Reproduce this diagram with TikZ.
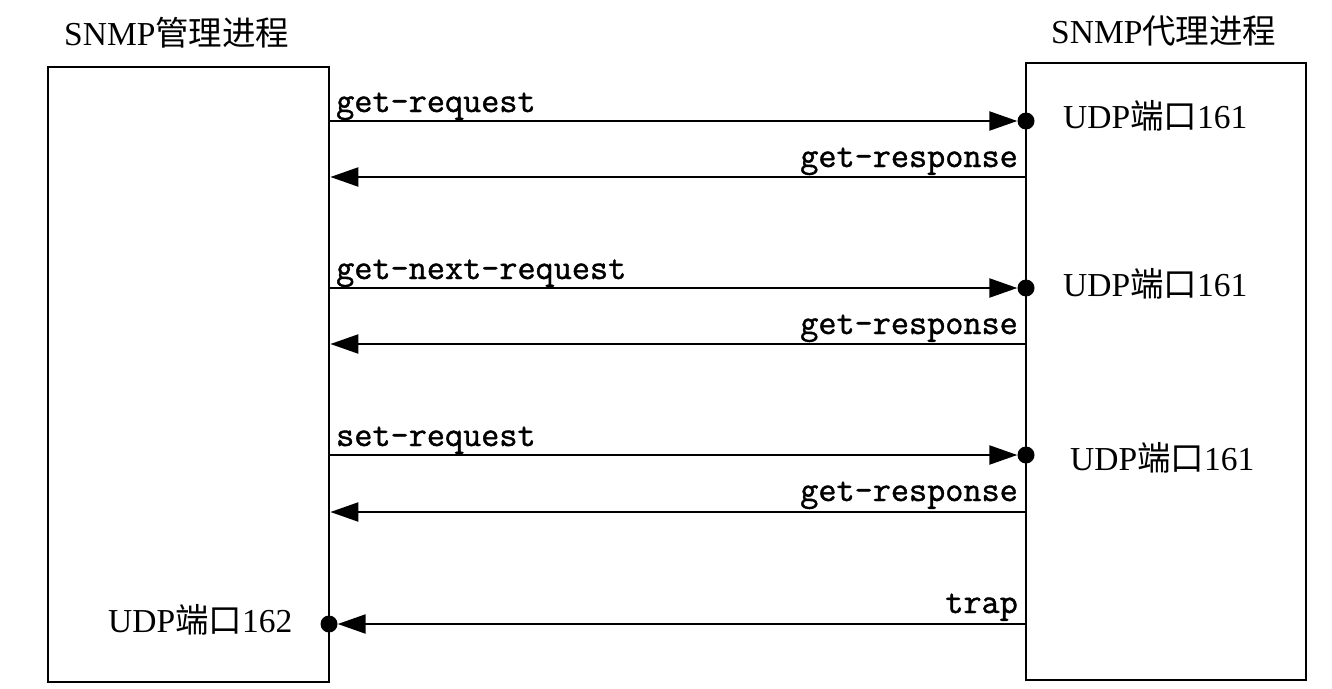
\documentclass[tikz,border=0pt]{standalone}
\usepackage{fontspec}
\setmainfont{Liberation Serif}
\newfontfamily\msgfont{Latin Modern Mono}[FakeBold=1.2]
\newfontfamily\cjk{Noto Sans CJK SC}
\usetikzlibrary{arrows.meta}
\newcommand{\zh}[1]{{\cjk #1}}
\begin{document}
\begin{tikzpicture}[x=1pt,y=-1pt,
  proc/.style={draw, line width=2.8pt, inner sep=0pt},
  msg/.style={line width=2.3pt, -{Triangle[length=28pt,width=19pt]}},
  port/.style={circle, fill, inner sep=0pt, minimum size=17pt},
  title/.style={inner sep=0pt, anchor=base west, font=\fontsize{33.5}{40}\selectfont},
  lbl/.style={inner sep=0pt, font=\msgfont\fontsize{35.2}{40}\selectfont}]
\useasboundingbox (0,0) rectangle (1332,688);

% the two processes
\node[proc, minimum width=281pt, minimum height=615pt] (mgr) at (188.5,374.5) {};
\node[proc, minimum width=280pt, minimum height=617pt] (agt) at (1166,371.5) {};

\node[title] (tm) at (64,45) {SNMP\zh{管理进程}};
\node[title] (ta) at (1051,43) {SNMP\zh{代理进程}};

% ports on the agent side
\node[port] (p1) at (1026,121) {};
\node[port] (p2) at (1026,288) {};
\node[port] (p3) at (1026,455) {};
\node[title] (u1) at (1063,128) {UDP\zh{端口}161};
\node[title] (u2) at (1063,296) {UDP\zh{端口}161};
\node[title] (u3) at (1070,470) {UDP\zh{端口}161};

% trap port on the manager side
\node[port] (p4) at (329,624) {};
\node[title] (u4) at (108,632) {UDP\zh{端口}162};

% get-request / get-response
\draw[msg] (mgr.east |- p1) -- (p1.west);
\node[lbl, anchor=base west] (l1) at (336,112) {get-request};
\coordinate (r1) at (0,177);
\draw[msg] (agt.west |- r1) -- (mgr.east |- r1);
\node[lbl, anchor=base east] (l2) at (1018,167) {get-response};

% get-next-request / get-response
\draw[msg] (mgr.east |- p2) -- (p2.west);
\node[lbl, anchor=base west] (l3) at (336,279) {get-next-request};
\coordinate (r2) at (0,344);
\draw[msg] (agt.west |- r2) -- (mgr.east |- r2);
\node[lbl, anchor=base east] (l4) at (1018,334) {get-response};

% set-request / get-response
\draw[msg] (mgr.east |- p3) -- (p3.west);
\node[lbl, anchor=base west] (l5) at (336,446) {set-request};
\coordinate (r3) at (0,512);
\draw[msg] (agt.west |- r3) -- (mgr.east |- r3);
\node[lbl, anchor=base east] (l6) at (1018,501) {get-response};

% trap
\draw[msg] (agt.west |- p4) -- (p4.east);
\node[lbl, anchor=base east] (l7) at (1018,613) {trap};
\end{tikzpicture}
\end{document}
